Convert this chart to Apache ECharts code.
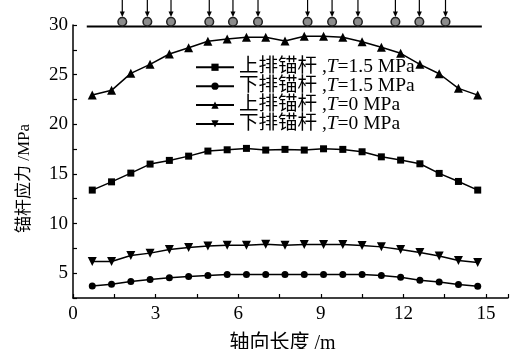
<!DOCTYPE html>
<html><head><meta charset="utf-8">
<script src="https://cdn.jsdelivr.net/npm/echarts@6/dist/echarts.min.js"></script>
<style>html,body{margin:0;padding:0;background:#fff}#c{width:522px;height:349px}</style>
</head><body><div id="c"></div>
<script>
var xs = [0.7,1.4,2.1,2.8,3.5,4.2,4.9,5.6,6.3,7.0,7.7,8.4,9.1,9.8,10.5,11.2,11.9,12.6,13.3,14.0,14.7];
var upperT15 = [13.37,14.2,15.08,15.99,16.36,16.79,17.30,17.43,17.57,17.40,17.47,17.40,17.53,17.47,17.23,16.72,16.39,16.02,15.05,14.24,13.37];
var lowerT15 = [3.72,3.89,4.16,4.36,4.53,4.67,4.77,4.87,4.87,4.87,4.87,4.87,4.87,4.87,4.87,4.77,4.60,4.29,4.12,3.86,3.69];
var upperT0 = [22.94,23.42,25.13,26.04,27.08,27.71,28.36,28.59,28.76,28.76,28.39,28.86,28.86,28.76,28.32,27.75,27.15,26.04,25.09,23.62,22.94];
var lowerT0 = [6.18,6.18,6.78,7.02,7.39,7.59,7.75,7.82,7.82,7.92,7.82,7.89,7.89,7.89,7.79,7.65,7.39,7.09,6.74,6.28,6.08];
var anchorX = [1.79,2.70,3.56,4.95,5.81,6.72,8.52,9.41,10.35,11.71,12.58,13.53];
var wallX = [0.5,14.85];
var wallY = 29.85;
var names = ['上排锚杆 ,T=1.5 MPa','下排锚杆 ,T=1.5 MPa','上排锚杆 ,T=0 MPa','下排锚杆 ,T=0 MPa'];
var xTickLabels = [0,3,6,9,12,15];
var yTickLabels = [5,10,15,20,25,30];

function pairs(v){ return xs.map(function(x,i){return [x,v[i]];}); }
var FONT = '"Liberation Serif","Noto Sans CJK SC",serif';
var chart = echarts.init(document.getElementById('c'));
function mk(name, data, sym, size){
  return {name:name,type:'line',data:pairs(data),symbol:sym,symbolSize:size,
    lineStyle:{color:'#000',width:1.5},itemStyle:{color:'#000',borderWidth:0},animation:false};
}
chart.setOption({
  animation:false,
  textStyle:{fontFamily:FONT},
  grid:{left:73,right:14,top:25,bottom:51,containLabel:false,outerBoundsMode:'none'},
  legend:{
    orient:'vertical',left:195,top:57.5,padding:0,itemGap:-0.6,itemWidth:38,itemHeight:9,
    data:names,
    formatter:function(n){var p=n.split('T');return '{a|'+p[0]+'}{i|T}{a|'+p[1]+'}';},
    textStyle:{fontFamily:FONT,fontSize:19.5,color:'#000',lineHeight:18,
      rich:{a:{fontFamily:FONT,fontSize:19.5,lineHeight:18,color:'#000'},i:{fontFamily:FONT,fontSize:19.5,lineHeight:18,fontStyle:'italic',color:'#000'}}}
  },
  xAxis:{type:'value',min:0,max:15.8,interval:1.5,
    name:'轴向长度 /m',nameLocation:'middle',nameGap:36,
    nameTextStyle:{fontFamily:FONT,fontSize:20,color:'#000',padding:[0,0,0,-16]},
    axisLine:{lineStyle:{color:'#000',width:1.5}},
    axisTick:{inside:true,length:4,lineStyle:{color:'#000',width:1.2}},
    axisLabel:{fontFamily:FONT,fontSize:19,color:'#000',margin:7,
      formatter:function(v){return xTickLabels.indexOf(Math.round(v*100)/100)>=0?String(v):'';}},
    splitLine:{show:false}},
  yAxis:{type:'value',min:2.5,max:30,interval:2.5,
    name:'锚杆应力 /MPa',nameLocation:'middle',nameGap:40,
    nameTextStyle:{fontFamily:FONT,fontSize:17,color:'#000',padding:[0,0,0,-34]},
    axisLine:{lineStyle:{color:'#000',width:1.5}},
    axisTick:{inside:true,length:4,lineStyle:{color:'#000',width:1.2}},
    axisLabel:{fontFamily:FONT,fontSize:19,color:'#000',margin:5,
      formatter:function(v){return yTickLabels.indexOf(v)>=0?String(v):'';}},
    splitLine:{show:false}},
  series:[
    mk(names[0],upperT15,'rect',7),
    mk(names[1],lowerT15,'circle',7),
    mk(names[2],upperT0,'triangle',9),
    mk(names[3],lowerT0,'path://M0,0 L10,0 L5,9 Z',9),
    {type:'line',data:wallX.map(function(x){return [x,wallY];}),symbol:'none',silent:true,clip:false,
      lineStyle:{color:'#000',width:2},z:1},
    {type:'custom',clip:false,silent:true,data:anchorX.map(function(x){return [x,wallY];}),
      renderItem:function(params,api){
        var p=api.coord([api.value(0),api.value(1)]);
        var cx=p[0], by=p[1];
        return {type:'group',children:[
          {type:'line',shape:{x1:cx,y1:by-27,x2:cx,y2:by-13},style:{stroke:'#000',lineWidth:1.2}},
          {type:'polygon',shape:{points:[[cx-2.5,by-15],[cx+2.5,by-15],[cx,by-9.5]]},style:{fill:'#000'}},
          {type:'circle',shape:{cx:cx,cy:by-4.7,r:4.3},style:{fill:'#8c8c8c',stroke:'#222',lineWidth:1.5}}
        ]};
      },z:3}
  ]
});
</script></body></html>
